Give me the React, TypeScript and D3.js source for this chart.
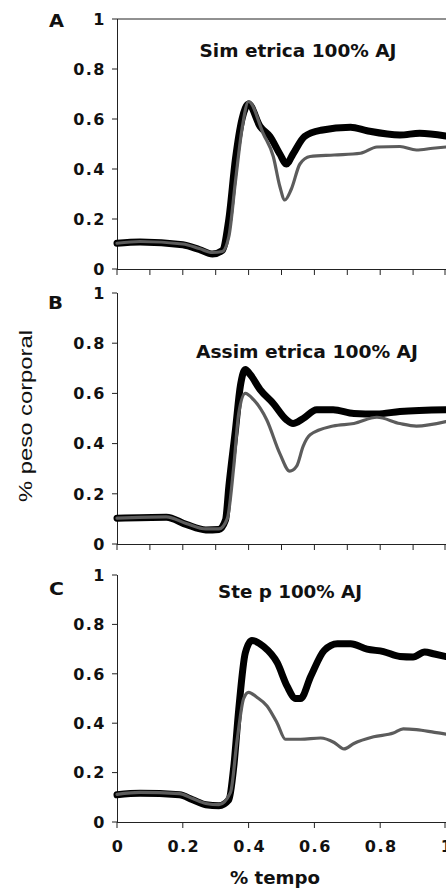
import React from 'react';
import * as d3 from 'd3';

type Pt = [number, number];

const yTicks = [0, 0.2, 0.4, 0.6, 0.8, 1];
const yTickLabels = ['0', '0.2', '0.4', '0.6', '0.8', '1'];
const xMinorTicks = [0, 0.1, 0.2, 0.3, 0.4, 0.5, 0.6, 0.7, 0.8, 0.9, 1];
const xMajorTicks = [0, 0.2, 0.4, 0.6, 0.8, 1];
const xTickLabels = ['0', '0.2', '0.4', '0.6', '0.8', '1'];
const panelLetters = ['A', 'B', 'C'];
const panelTitles = ['Sim etrica 100% AJ', 'Assim etrica 100% AJ', 'Ste p 100% AJ'];
const yAxisLabel = '% peso corporal';
const xAxisLabel = '% tempo';

const simBlack: Pt[] = [
  [0, 0.103], [0.07, 0.108], [0.2, 0.097], [0.25, 0.078], [0.29, 0.06], [0.32, 0.074],
  [0.34, 0.2], [0.36, 0.44], [0.38, 0.6], [0.4, 0.66], [0.435, 0.57], [0.465, 0.53],
  [0.495, 0.46], [0.515, 0.42], [0.535, 0.46], [0.57, 0.53], [0.62, 0.555], [0.71, 0.567],
  [0.76, 0.553], [0.86, 0.536], [0.92, 0.543], [1.0, 0.532],
];
const simGray: Pt[] = [
  [0, 0.103], [0.07, 0.11], [0.2, 0.1], [0.25, 0.082], [0.29, 0.066], [0.32, 0.07],
  [0.34, 0.13], [0.36, 0.35], [0.38, 0.56], [0.4, 0.67], [0.445, 0.54], [0.475, 0.45],
  [0.495, 0.33], [0.51, 0.276], [0.53, 0.32], [0.556, 0.42], [0.587, 0.45], [0.66, 0.456],
  [0.74, 0.463], [0.79, 0.488], [0.86, 0.49], [0.91, 0.476], [0.96, 0.483], [1.0, 0.488],
];
const asiBlack: Pt[] = [
  [0, 0.103], [0.15, 0.107], [0.21, 0.078], [0.27, 0.056], [0.31, 0.058], [0.33, 0.096],
  [0.34, 0.23], [0.36, 0.455], [0.375, 0.63], [0.39, 0.695], [0.405, 0.675], [0.435, 0.615],
  [0.475, 0.56], [0.515, 0.495], [0.535, 0.48], [0.566, 0.5], [0.607, 0.535], [0.657, 0.535],
  [0.72, 0.52], [0.79, 0.518], [0.86, 0.528], [1.0, 0.535],
];
const asiGray: Pt[] = [
  [0, 0.103], [0.15, 0.108], [0.21, 0.082], [0.27, 0.06], [0.31, 0.06], [0.335, 0.1],
  [0.355, 0.31], [0.37, 0.52], [0.39, 0.6], [0.415, 0.575], [0.455, 0.495], [0.495, 0.36],
  [0.525, 0.29], [0.546, 0.31], [0.566, 0.39], [0.587, 0.435], [0.657, 0.47], [0.72, 0.48],
  [0.79, 0.505], [0.86, 0.48], [0.91, 0.47], [1.0, 0.488],
];
const stepBlack: Pt[] = [
  [0, 0.11], [0.07, 0.116], [0.19, 0.11], [0.23, 0.09], [0.27, 0.07], [0.31, 0.066],
  [0.34, 0.09], [0.355, 0.225], [0.37, 0.455], [0.39, 0.685], [0.41, 0.735], [0.446, 0.71],
  [0.487, 0.645], [0.517, 0.55], [0.543, 0.5], [0.558, 0.5], [0.589, 0.59], [0.63, 0.695],
  [0.67, 0.722], [0.71, 0.722], [0.76, 0.7], [0.81, 0.69], [0.86, 0.67], [0.9, 0.668],
  [0.935, 0.688], [0.965, 0.68], [1.0, 0.67],
];
const stepGray: Pt[] = [
  [0, 0.112], [0.07, 0.12], [0.19, 0.115], [0.23, 0.095], [0.27, 0.075], [0.31, 0.07],
  [0.345, 0.12], [0.365, 0.33], [0.385, 0.5], [0.4, 0.525], [0.425, 0.505], [0.456, 0.47],
  [0.487, 0.4], [0.512, 0.335], [0.558, 0.335], [0.619, 0.34], [0.66, 0.322], [0.69, 0.296],
  [0.72, 0.318], [0.78, 0.345], [0.84, 0.36], [0.87, 0.377], [0.91, 0.374], [0.965, 0.363],
  [1.0, 0.356],
];

const panelBlack = [simBlack, asiBlack, stepBlack];
const panelGray = [simGray, asiGray, stepGray];

const W = 446;
const H = 891;
const X0 = 117;
const X1 = 446;
const panelTop = [19, 293, 575];
const panelBottom = [269, 544, 822];
const titleCfg = [
  { x: 298, y: 57, len: 197 },
  { x: 307, y: 358, len: 222 },
  { x: 290, y: 598, len: 144 },
];
const letterCfg = [
  { x: 49, y: 27 },
  { x: 48, y: 309 },
  { x: 49, y: 595 },
];

const tickFont = "'DejaVu Sans', 'Liberation Sans', Arial, sans-serif";

export default function App() {
  const x = d3.scaleLinear().domain([0, 1]).range([X0, X1]);
  return (
    <svg
      width={W}
      height={H}
      viewBox={`0 0 ${W} ${H}`}
      style={{ position: 'absolute', left: 0, top: 0, background: '#fff' }}
    >
      <rect x={0} y={0} width={W} height={H} fill="#fff" />
      {[0, 1, 2].map((i) => {
        const y = d3.scaleLinear().domain([0, 1]).range([panelBottom[i], panelTop[i]]);
        const line = d3
          .line<Pt>()
          .x((d) => x(d[0]))
          .y((d) => y(d[1]))
          .curve(d3.curveMonotoneX);
        const isLast = i === 2;
        const xt = isLast ? xMajorTicks : xMinorTicks;
        return (
          <g key={i}>
            {i === 0 && (
              <line x1={X0} x2={X1} y1={panelTop[0]} y2={panelTop[0]} stroke="#222" strokeWidth={1} />
            )}
            <line x1={X0 + 0.5} x2={X0 + 0.5} y1={y(1)} y2={y(0)} stroke="#222" strokeWidth={1} />
            {yTicks.map((t, k) => (
              <g key={k}>
                <line x1={X0 - 5} x2={X0} y1={y(t)} y2={y(t)} stroke="#222" strokeWidth={1} />
                <text
                  x={106}
                  y={y(t)}
                  dy="0.36em"
                  textAnchor="end"
                  fontFamily={tickFont}
                  fontWeight="bold"
                  fontSize={16}
                  letterSpacing={1.5}
                  fill="#111"
                >
                  {yTickLabels[k]}
                </text>
              </g>
            ))}
            <line x1={X0} x2={X1} y1={y(0) + 0.5} y2={y(0) + 0.5} stroke="#222" strokeWidth={1} />
            {xt.map((t, k) => (
              <line
                key={k}
                x1={Math.min(x(t), X1 - 1)}
                x2={Math.min(x(t), X1 - 1)}
                y1={y(0)}
                y2={y(0) + 6}
                stroke="#222"
                strokeWidth={1}
              />
            ))}
            {isLast &&
              xMajorTicks.map((t, k) => (
                <text
                  key={k}
                  x={x(t) + 1}
                  y={852}
                  textAnchor="middle"
                  fontFamily={tickFont}
                  fontWeight="bold"
                  fontSize={16}
                  letterSpacing={1.5}
                  fill="#111"
                >
                  {xTickLabels[k]}
                </text>
              ))}
            <path d={line(panelBlack[i]) || ''} fill="none" stroke="#000" strokeWidth={7} strokeLinejoin="round" strokeLinecap="round" />
            <path d={line(panelGray[i]) || ''} fill="none" stroke="#5c5c5c" strokeWidth={3.2} strokeLinejoin="round" strokeLinecap="round" />
            <text
              x={titleCfg[i].x}
              y={titleCfg[i].y}
              textAnchor="middle"
              fontFamily={tickFont}
              fontWeight="bold"
              fontSize={17}
              textLength={titleCfg[i].len}
              lengthAdjust="spacingAndGlyphs"
              fill="#111"
            >
              {panelTitles[i]}
            </text>
            <text
              x={letterCfg[i].x}
              y={letterCfg[i].y}
              fontFamily={tickFont}
              fontWeight="bold"
              fontSize={17}
              textLength={15}
              lengthAdjust="spacingAndGlyphs"
              fill="#111"
            >
              {panelLetters[i]}
            </text>
          </g>
        );
      })}
      <text
        transform="translate(32,416) rotate(-90)"
        textAnchor="middle"
        fontFamily="'Liberation Sans', Arial, sans-serif"
        fontSize={18}
        textLength={172}
        lengthAdjust="spacingAndGlyphs"
        fill="#111"
      >
        {yAxisLabel}
      </text>
      <text
        x={275}
        y={884}
        textAnchor="middle"
        fontFamily={tickFont}
        fontWeight="bold"
        fontSize={17}
        textLength={90}
        lengthAdjust="spacingAndGlyphs"
        fill="#111"
      >
        {xAxisLabel}
      </text>
    </svg>
  );
}
